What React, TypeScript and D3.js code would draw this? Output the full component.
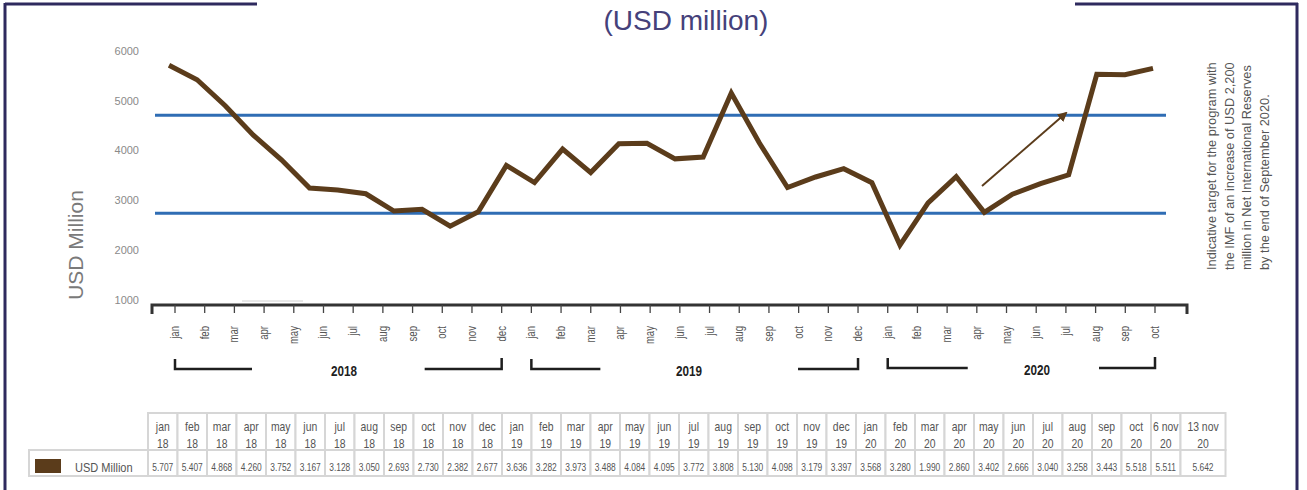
import React from "react";
import * as d3 from "d3";

// ---- data ----
const monthNames = ["jan", "feb", "mar", "apr", "may", "jun", "jul", "aug", "sep", "oct", "nov", "dec"];
const axisMonths2018 = monthNames;
const axisMonths2019 = monthNames;
const axisMonths2020 = monthNames.slice(0, 10);
const axisMonths = [...axisMonths2018, ...axisMonths2019, ...axisMonths2020];

const tableTop = [
  "jan", "feb", "mar", "apr", "may", "jun", "jul", "aug", "sep", "oct", "nov", "dec",
  "jan", "feb", "mar", "apr", "may", "jun", "jul", "aug", "sep", "oct", "nov", "dec",
  "jan", "feb", "mar", "apr", "may", "jun", "jul", "aug", "sep", "oct", "6 nov", "13 nov",
];
const tableYear = [
  "18", "18", "18", "18", "18", "18", "18", "18", "18", "18", "18", "18",
  "19", "19", "19", "19", "19", "19", "19", "19", "19", "19", "19", "19",
  "20", "20", "20", "20", "20", "20", "20", "20", "20", "20", "20", "20",
];
const usdMillion = [
  5707, 5407, 4868, 4260, 3752, 3167, 3128, 3050, 2693, 2730, 2382, 2677,
  3636, 3282, 3973, 3488, 4084, 4095, 3772, 3808, 5130, 4098, 3179, 3397,
  3568, 3280, 1990, 2860, 3402, 2666, 3040, 3258, 3443, 5518, 5511, 5642,
];
const yTicks = [1000, 2000, 3000, 4000, 5000, 6000];
const targetLevels = [2650, 4670];
const years = ["2018", "2019", "2020"];
const yearStartIdx = [0, 12, 24];
const yearEndIdx = [11, 23, 33];
const noteLines = [
  "Indicative target for the program with",
  "the IMF of an increase of USD 2,200",
  "million in Net International Reserves",
  "by the end of September 2020.",
];

// ---- layout ----
const W = 1307;
const H = 490;
const FRAME = "#2e2a5e";
const BROWN = "#5b3c1b";
const BLUE = "#2f6db4";
const SANS = "'Liberation Sans', Arial, Helvetica, sans-serif";
const SQ = 0.8; // horizontal condensing for narrow-looking labels

const yScale = d3.scaleLinear().domain([1000, 6000]).range([293, 51]);
const yAxisScale = d3.scaleLinear().domain([1000, 6000]).range([300, 51]);
const xLine = d3.scalePoint<number>().domain(d3.range(usdMillion.length)).range([169, 1153]);
const xTick = d3.scalePoint<number>().domain(d3.range(axisMonths.length)).range([175, 1155]);

const AXIS_Y = 305;
const bracketArms = [
  [77, 77],
  [69, 60],
  [80, 56],
];
const bracketY = [369, 369, 368];
const yearLabelX = [344, 689, 1037];

const tableX0 = 148;
const colW = 29.5;
const lastColW = 45;
const colXs = tableTop.map((_, i) => tableX0 + i * colW);
const colWs = tableTop.map((_, i) => (i === tableTop.length - 1 ? lastColW : colW));

function NText(props: {
  x: number;
  y: number;
  size: number;
  anchor?: string;
  fill?: string;
  weight?: string;
  rotate?: number;
  sq?: number;
  children: React.ReactNode;
}) {
  const { x, y, size, anchor = "middle", fill = "#555", weight = "normal", rotate = 0, sq = SQ, children } = props;
  return (
    <text
      transform={`translate(${x},${y}) rotate(${rotate}) scale(${sq},1)`}
      textAnchor={anchor}
      fontFamily={SANS}
      fontSize={size}
      fontWeight={weight}
      fill={fill}
    >
      {children}
    </text>
  );
}

export default function App() {
  const lineGen = d3
    .line<number>()
    .x((_, i) => xLine(i) as number)
    .y((d) => yScale(d));

  const fmt = (v: number) => (v / 1000).toFixed(3);

  return (
    <svg
      width={W}
      height={H}
      viewBox={`0 0 ${W} ${H}`}
      style={{ position: "absolute", left: 0, top: 0, background: "#fff" }}
    >
      <defs>
        <marker id="arr" viewBox="0 0 10 10" refX="8" refY="5" markerWidth="5" markerHeight="5" orient="auto">
          <path d="M0,0 L10,5 L0,10 z" fill={BROWN} />
        </marker>
      </defs>

      {/* frame */}
      <line x1={5} y1={4} x2={257} y2={4} stroke={FRAME} strokeWidth={3} />
      <line x1={5} y1={3} x2={5} y2={H} stroke={FRAME} strokeWidth={3} />
      <line x1={1075} y1={4} x2={1298} y2={4} stroke={FRAME} strokeWidth={3} />
      <line x1={1297} y1={3} x2={1297} y2={H} stroke={FRAME} strokeWidth={3} />

      {/* title */}
      <text x={686} y={30} textAnchor="middle" fontFamily={SANS} fontSize={28} fill="#45417a">
        (USD million)
      </text>

      {/* y-axis title */}
      <text
        transform={`translate(83,245) rotate(-90)`}
        textAnchor="middle"
        fontFamily={SANS}
        fontSize={21}
        fill="#7a7a7a"
      >
        USD Million
      </text>

      {/* y tick labels */}
      {yTicks.map((t) => (
        <text
          key={t}
          x={139}
          y={yAxisScale(t)}
          dy="0.35em"
          textAnchor="end"
          fontFamily={SANS}
          fontSize={11}
          fill="#8a8a8a"
        >
          {t}
        </text>
      ))}

      {/* faint artifact line */}
      <line x1={242} y1={301} x2={303} y2={301} stroke="#d0d0d0" strokeWidth={1} />

      {/* target lines */}
      {targetLevels.map((v) => (
        <line key={v} x1={155} x2={1166} y1={yScale(v)} y2={yScale(v)} stroke={BLUE} strokeWidth={3} />
      ))}

      {/* data line */}
      <path d={lineGen(usdMillion) || ""} fill="none" stroke={BROWN} strokeWidth={5} strokeLinejoin="miter" />

      {/* arrow */}
      <line x1={982} y1={186} x2={1066} y2={113} stroke={BROWN} strokeWidth={2} markerEnd="url(#arr)" />

      {/* x axis */}
      <path
        d={`M152,314 L152,${AXIS_Y} L1187,${AXIS_Y} L1187,314`}
        fill="none"
        stroke="#333"
        strokeWidth={3}
      />
      {axisMonths.map((m, i) => {
        const x = xTick(i) as number;
        return (
          <g key={i}>
            <line x1={x} x2={x} y1={AXIS_Y} y2={313} stroke="#444" strokeWidth={1.3} />
            <NText x={x + 4} y={326} size={12} anchor="end" rotate={-90} fill="#555">
              {m}
            </NText>
          </g>
        );
      })}

      {/* year brackets */}
      {years.map((yr, k) => {
        const xs = xTick(yearStartIdx[k]) as number;
        const xe = xTick(yearEndIdx[k]) as number;
        const by = bracketY[k];
        const [la, ra] = bracketArms[k];
        return (
          <g key={yr}>
            <path d={`M${xs},${by - 10} L${xs},${by} L${xs + la},${by}`} fill="none" stroke="#1e1e1e" strokeWidth={2.5} />
            <path d={`M${xe - ra},${by} L${xe},${by} L${xe},${by - 11}`} fill="none" stroke="#1e1e1e" strokeWidth={2.5} />
            <NText x={yearLabelX[k]} y={by + 7} size={15} weight="bold" fill="#1e1e1e" sq={0.78}>
              {yr}
            </NText>
          </g>
        );
      })}

      {/* note */}
      {noteLines.map((t, i) => (
        <text
          key={i}
          transform={`translate(${1216 + i * 17.6},270) rotate(-90)`}
          textAnchor="start"
          fontFamily={SANS}
          fontSize={12.8}
          fill="#555"
        >
          {t}
        </text>
      ))}

      {/* table */}
      <g>
        <rect x={29} y={450} width={tableX0 - 29} height={26} fill="#fff" stroke="#d6d6d6" strokeWidth={2} />
        <rect x={35} y={459} width={26} height={14} fill={BROWN} />
        <NText x={75} y={471.5} size={13} anchor="start" fill="#555" sq={0.85}>
          USD Million
        </NText>
        {tableTop.map((t, i) => {
          const x = colXs[i];
          const w = colWs[i];
          return (
            <g key={i}>
              <rect x={x} y={413} width={w} height={37} fill="#fff" stroke="#d6d6d6" strokeWidth={2} />
              <rect x={x} y={450} width={w} height={26} fill="#fff" stroke="#d6d6d6" strokeWidth={2} />
              <NText x={x + w / 2} y={430.5} size={13} fill="#555">
                {t}
              </NText>
              <NText x={x + w / 2} y={447.5} size={13} fill="#555">
                {tableYear[i]}
              </NText>
              <NText x={x + w / 2} y={470.5} size={10.5} fill="#555">
                {fmt(usdMillion[i])}
              </NText>
            </g>
          );
        })}
      </g>
    </svg>
  );
}
